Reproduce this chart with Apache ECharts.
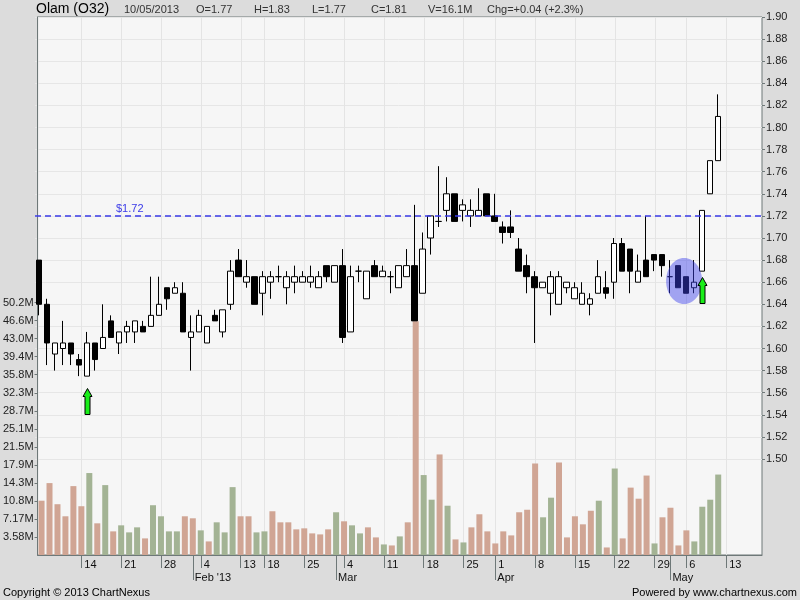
<!DOCTYPE html>
<html><head><meta charset="utf-8">
<script src="https://cdn.jsdelivr.net/npm/echarts@6/dist/echarts.min.js"></script>
<style>html,body{margin:0;padding:0;background:#dcdcdc}#c{width:800px;height:600px}</style>
</head><body><div id="c"></div>
<script>
// ---- data ----
const dates = [
'2013-01-07','2013-01-08','2013-01-09','2013-01-10','2013-01-11','2013-01-14','2013-01-15','2013-01-16','2013-01-17','2013-01-18',
'2013-01-21','2013-01-22','2013-01-23','2013-01-24','2013-01-25','2013-01-28','2013-01-29','2013-01-30','2013-01-31','2013-02-01',
'2013-02-04','2013-02-05','2013-02-06','2013-02-07','2013-02-08','2013-02-13','2013-02-14','2013-02-15','2013-02-18','2013-02-19',
'2013-02-20','2013-02-21','2013-02-22','2013-02-25','2013-02-26','2013-02-27','2013-02-28','2013-03-01','2013-03-04','2013-03-05',
'2013-03-06','2013-03-07','2013-03-08','2013-03-11','2013-03-12','2013-03-13','2013-03-14','2013-03-15','2013-03-18','2013-03-19',
'2013-03-20','2013-03-21','2013-03-22','2013-03-25','2013-03-26','2013-03-27','2013-03-28','2013-04-01','2013-04-02','2013-04-03',
'2013-04-04','2013-04-05','2013-04-08','2013-04-09','2013-04-10','2013-04-11','2013-04-12','2013-04-15','2013-04-16','2013-04-17',
'2013-04-18','2013-04-19','2013-04-22','2013-04-23','2013-04-24','2013-04-25','2013-04-26','2013-04-29','2013-04-30','2013-05-02',
'2013-05-03','2013-05-06','2013-05-07','2013-05-08','2013-05-09','2013-05-10','2013-05-13','2013-05-14','2013-05-15','2013-05-16','2013-05-17'];

const opens = [1.68,1.64,1.595,1.60,1.605,1.59,1.575,1.605,1.60,1.625,1.605,1.615,1.615,1.62,1.62,1.63,1.655,1.65,1.65,1.61,
1.615,1.605,1.63,1.615,1.64,1.68,1.66,1.665,1.65,1.66,1.665,1.655,1.66,1.66,1.66,1.655,1.675,1.66,1.675,1.615,
1.67,1.645,1.675,1.665,1.665,1.655,1.665,1.675,1.65,1.70,1.715,1.725,1.74,1.725,1.72,1.72,1.74,1.72,1.71,1.71,
1.69,1.675,1.665,1.655,1.65,1.64,1.655,1.645,1.64,1.64,1.65,1.655,1.66,1.695,1.69,1.66,1.68,1.685,1.685,1.665,
1.675,1.665,1.655,1.67,1.74,1.77];
const closes = [1.64,1.605,1.605,1.605,1.595,1.585,1.605,1.59,1.61,1.61,1.615,1.62,1.625,1.615,1.63,1.64,1.645,1.655,1.615,1.615,
1.63,1.62,1.625,1.635,1.67,1.665,1.665,1.64,1.665,1.665,1.665,1.665,1.665,1.665,1.665,1.665,1.665,1.675,1.61,1.665,
1.67,1.67,1.665,1.67,1.665,1.675,1.675,1.625,1.69,1.72,1.715,1.74,1.715,1.73,1.725,1.725,1.72,1.715,1.705,1.705,
1.67,1.665,1.655,1.66,1.665,1.665,1.66,1.655,1.65,1.645,1.665,1.65,1.695,1.67,1.67,1.67,1.665,1.68,1.675,1.665,
1.655,1.65,1.66,1.725,1.77,1.81];
const lows = [1.63,1.585,1.58,1.585,1.585,1.575,1.575,1.58,1.60,1.61,1.595,1.605,1.605,1.615,1.62,1.63,1.635,1.65,1.615,1.58,
1.615,1.605,1.625,1.61,1.635,1.665,1.655,1.64,1.63,1.645,1.66,1.64,1.65,1.66,1.655,1.655,1.66,1.66,1.605,1.615,
1.66,1.645,1.665,1.665,1.65,1.655,1.665,1.625,1.65,1.685,1.71,1.715,1.715,1.715,1.71,1.72,1.72,1.715,1.695,1.70,
1.67,1.65,1.605,1.655,1.63,1.64,1.65,1.645,1.64,1.63,1.65,1.645,1.645,1.67,1.65,1.66,1.665,1.67,1.665,1.65,
1.655,1.65,1.65,1.67,1.74,1.77];
const highs = [1.68,1.645,1.605,1.625,1.605,1.595,1.615,1.605,1.64,1.63,1.615,1.625,1.625,1.625,1.665,1.665,1.655,1.66,1.66,1.63,
1.635,1.62,1.635,1.635,1.68,1.69,1.68,1.665,1.67,1.67,1.675,1.67,1.675,1.67,1.675,1.67,1.675,1.675,1.69,1.675,
1.675,1.67,1.68,1.675,1.67,1.675,1.69,1.73,1.705,1.72,1.765,1.755,1.74,1.735,1.735,1.745,1.74,1.74,1.715,1.725,
1.70,1.685,1.67,1.66,1.67,1.67,1.66,1.66,1.66,1.65,1.68,1.67,1.70,1.70,1.69,1.685,1.72,1.685,1.685,1.68,
1.675,1.665,1.68,1.725,1.77,1.83];
const volumes = [10.8,14.3,10.1,7.7,13.7,9.7,16.3,6.3,13.9,4.7,5.9,4.5,5.5,3.3,9.9,7.7,4.7,4.7,7.7,7.3,
4.9,2.7,6.5,4.5,13.5,7.7,7.7,4.5,4.7,8.7,6.5,6.5,5.1,5.3,4.3,4.1,5.1,8.5,6.7,5.9,
4.3,5.5,3.5,2.1,1.9,3.7,6.5,46.5,15.9,11.0,20.0,9.8,3.1,2.5,5.5,8.1,4.7,2.3,4.7,3.9,
8.5,9.0,18.2,7.5,11.4,18.4,3.5,7.7,6.1,8.8,10.8,1.5,17.2,3.3,13.4,11.2,15.8,2.3,7.5,9.4,
1.9,4.9,2.7,9.6,11.0,16.0];
const volDir = ['d','d','d','d','d','d','u','d','u','d','u','u','u','d','u','u','u','u','d','d',
'u','d','u','u','u','d','d','u','u','d','d','d','d','d','d','d','d','u','d','u',
'u','d','d','u','d','u','d','d','u','u','d','u','d','u','d','d','d','d','d','d',
'd','d','d','u','u','d','d','d','d','d','u','d','u','d','d','d','d','u','d','d',
'd','d','u','u','u','u'];

const weekTicks = ['2013-01-14','2013-01-21','2013-01-28','2013-02-04','2013-02-13','2013-02-18','2013-02-25','2013-03-04',
'2013-03-11','2013-03-18','2013-03-25','2013-04-01','2013-04-08','2013-04-15','2013-04-22','2013-04-29','2013-05-06','2013-05-13'];
const monthTicks = ['2013-02-01','2013-03-01','2013-04-01','2013-05-02'];
const monthLabels = ["Feb '13",'Mar','Apr','May'];

const priceMin = 1.50, priceMax = 1.90, priceStep = 0.02;
const volMax = 107;
const volTickValues = [3.585,7.17,10.755,14.34,17.925,21.51,25.095,28.68,32.265,35.85,39.435,43.02,46.605,50.19];
const volTickLabels = ['3.58M','7.17M','10.8M','14.3M','17.9M','21.5M','25.1M','28.7M','32.3M','35.8M','39.4M','43.0M','46.6M','50.2M'];

const refLevel = 1.72;
const arrowAt = [['2013-01-15', 1.564], ['2013-05-08', 1.665]];
const highlightAt = [['2013-05-06', 1.661]];

const header = ['Olam (O32)','10/05/2013','O=1.77','H=1.83','L=1.77','C=1.81','V=16.1M','Chg=+0.04 (+2.3%)'];

// ---- build ----
const FONT = '"Liberation Sans", Arial, sans-serif';
const weekSet = new Set(weekTicks.map(d => dates.indexOf(d)));
const monthSet = new Set(monthTicks.map(d => dates.indexOf(d)));
const candleData = opens.map((o, i) => [o, closes[i], lows[i], highs[i]]);
const volData = volumes.map((v, i) => ({value: v, itemStyle: {color: volDir[i] === 'u' ? '#a3b394' : '#d0a594'}}));

const chart = echarts.init(document.getElementById('c'), null, {renderer: 'canvas'});
const headerX = [36,124,196,254,312,371,428,487];

const option = {
  animation: false,
  backgroundColor: '#dcdcdc',
  textStyle: {fontFamily: FONT},
  graphic: [
    ...header.map((t, i) => ({type: 'text', left: headerX[i], top: i === 0 ? 2 : 4,
      style: {text: t, font: (i === 0 ? '14px ' : '11px ') + FONT, fill: i === 0 ? '#000' : '#333'}})),
    {type: 'text', left: 3, top: 587, style: {text: 'Copyright © 2013 ChartNexus', font: '11px ' + FONT, fill: '#000'}},
    {type: 'text', right: 3, top: 587, style: {text: 'Powered by www.chartnexus.com', font: '11px ' + FONT, fill: '#000'}}
  ],
  grid: [
    {left: 35, right: 38, top: 17, height: 442, show: false},
    {left: 35, right: 38, top: 17, bottom: 45, show: true, backgroundColor: '#f6f6f6', borderColor: '#6e7878', borderWidth: 1, z: -1}
  ],
  xAxis: [
    {type: 'category', gridIndex: 0, data: dates, show: false},
    {type: 'category', gridIndex: 1, data: dates, position: 'bottom',
      axisLine: {show: true, lineStyle: {color: '#6e7878'}},
      axisTick: {show: true, alignWithLabel: true, interval: (i) => weekSet.has(i), length: 13, lineStyle: {color: '#6e7878'}},
      axisLabel: {interval: (i) => weekSet.has(i), formatter: (v) => String(+v.slice(8)), align: 'left', padding: [0,0,0,3],
        margin: 4, fontSize: 11, color: '#111', fontFamily: FONT},
      splitLine: {show: false}},
    {type: 'category', gridIndex: 1, data: dates, position: 'bottom',
      axisLine: {show: false},
      axisTick: {show: true, alignWithLabel: true, interval: (i) => monthSet.has(i), length: 25, lineStyle: {color: '#6e7878'}},
      axisLabel: {interval: (i) => monthSet.has(i), formatter: (v) => monthLabels[monthTicks.indexOf(v)] || '', align: 'left',
        padding: [0,0,0,2], margin: 17, fontSize: 11, color: '#111', fontFamily: FONT},
      splitLine: {show: false}}
  ],
  yAxis: [
    {type: 'value', gridIndex: 0, position: 'right', min: priceMin, max: priceMax, interval: priceStep,
      axisLine: {show: false},
      axisTick: {show: true, length: 3, lineStyle: {color: '#6e7878'}},
      axisLabel: {margin: 4, fontSize: 11, color: '#222', formatter: (v) => v.toFixed(2), fontFamily: FONT},
      splitLine: {show: true, lineStyle: {color: '#e6e6e6', width: 1}}},
    {type: 'value', gridIndex: 1, position: 'left', min: 0, max: volMax,
      axisLine: {show: true, lineStyle: {color: '#6e7878'}},
      axisTick: {show: true, length: 3, customValues: volTickValues, lineStyle: {color: '#6e7878'}},
      axisLabel: {customValues: volTickValues, margin: 4, fontSize: 11, color: '#222', fontFamily: FONT,
        formatter: (v) => { const k = volTickValues.findIndex(t => Math.abs(t - v) < 0.01); return k >= 0 ? volTickLabels[k] : ''; }},
      splitLine: {show: false}}
  ],
  series: [
    {type: 'custom', name: 'vgrid', xAxisIndex: 1, yAxisIndex: 1, z: 1, silent: true,
      data: weekTicks.map(d => [d, 0]),
      renderItem: (params, api) => {
        const x = Math.round(api.coord([api.value(0), 0])[0]) + 0.5;
        const cs = params.coordSys;
        return {type: 'line', shape: {x1: x, y1: cs.y, x2: x, y2: cs.y + cs.height}, style: {stroke: '#e4e4e4', lineWidth: 1}};
      }},
    {type: 'bar', name: 'Volume', xAxisIndex: 1, yAxisIndex: 1, data: volData, barWidth: 6, z: 2, silent: true},
    {type: 'candlestick', name: 'Olam', xAxisIndex: 0, yAxisIndex: 0, data: candleData, barWidth: 6, z: 3,
      itemStyle: {color: '#ffffff', color0: '#000000', borderColor: '#000000', borderColor0: '#000000', borderWidth: 1},
      markLine: {silent: true, symbol: 'none',
        lineStyle: {color: '#3a3ae8', type: [6, 4], width: 1.5},
        label: {show: true, position: 'insideStartTop', distance: [81, 1], formatter: '$' + refLevel.toFixed(2),
          color: '#3a3ae8', fontSize: 11, fontFamily: FONT},
        data: [{yAxis: refLevel}]}},
    {type: 'custom', name: 'highlight', xAxisIndex: 0, yAxisIndex: 0, z: 5, silent: true,
      data: highlightAt,
      renderItem: (params, api) => {
        const p = api.coord([api.value(0), api.value(1)]);
        return {type: 'ellipse', shape: {cx: p[0] - 2, cy: p[1], rx: 18, ry: 23}, style: {fill: 'rgba(60,66,236,0.46)'}};
      }},
    {type: 'custom', name: 'arrows', xAxisIndex: 0, yAxisIndex: 0, z: 6, silent: true,
      data: arrowAt,
      renderItem: (params, api) => {
        const p = api.coord([api.value(0), api.value(1)]);
        const x = Math.round(p[0]) + 0.5, y = Math.round(p[1]) + 0.5;
        return {type: 'polygon', shape: {points: [[x, y], [x + 4.5, y + 8], [x + 2.5, y + 8], [x + 2.5, y + 26], [x - 2.5, y + 26], [x - 2.5, y + 8], [x - 4.5, y + 8]]},
          style: {fill: '#19ee19', stroke: '#000', lineWidth: 1}};
      }}
  ]
};
chart.setOption(option);
</script>
</body></html>
